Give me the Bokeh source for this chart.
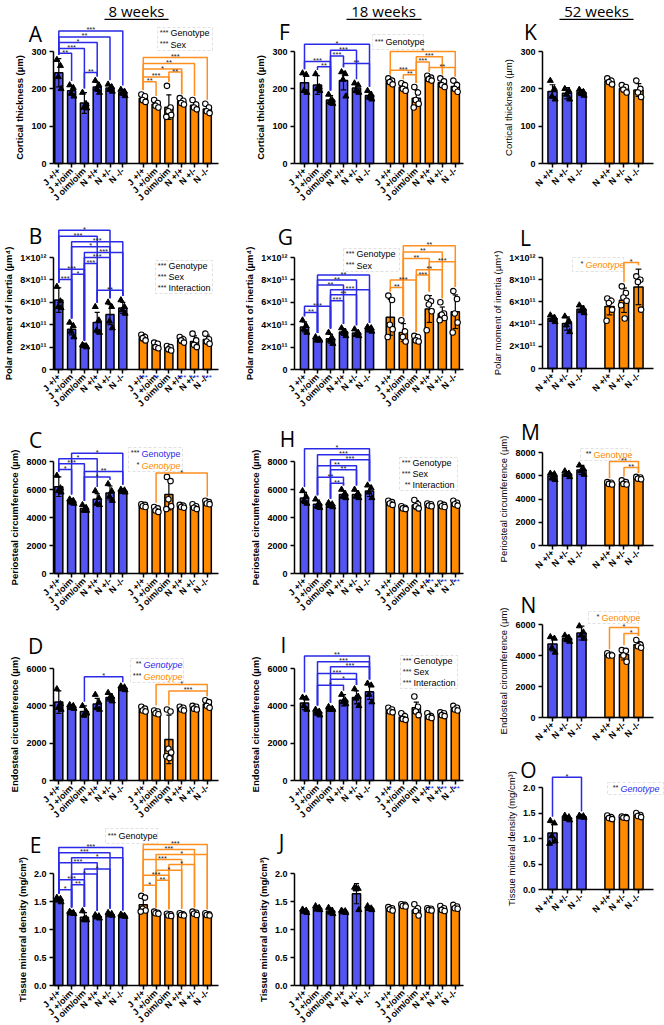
import math
from bokeh.plotting import figure
from bokeh.models import FixedTicker, Label, BoxAnnotation, Range1d
from bokeh.layouts import row, column
from bokeh.embed import file_html
from bokeh.resources import INLINE
from bokeh.core.properties import value

# ---------------- categories / tick labels ----------------
GROUPS_ALL = ["J +/+", "J +/oim", "J oim/oim", "N +/+", "N +/-", "N -/-"]
GROUPS_N = ["N +/+", "N +/-", "N -/-"]

YT_CT = [0, 100, 200, 300]
YL_CT = ["0", "100", "200", "300"]
YT_PM = [0, 2, 4, 6, 8, 10]          # units of 10^11 µm^4
YL_PM = ["0", "2×10¹¹", "4×10¹¹", "6×10¹¹", "8×10¹¹", "1×10¹²"]
YT_PC = [0, 2000, 4000, 6000, 8000]
YL_PC = ["0", "2000", "4000", "6000", "8000"]
YT_EC = [0, 2000, 4000, 6000]
YL_EC = ["0", "2000", "4000", "6000"]
YT_TMD = [0, 0.5, 1.0, 1.5, 2.0]
YL_TMD = ["0.0", "0.5", "1.0", "1.5", "2.0"]

LAB_CT = "Cortical thickness (µm)"
LAB_PM = "Polar moment of inertia (µm⁴)"
LAB_PC = "Periosteal circumference (µm)"
LAB_EC = "Endosteal circumference (µm)"
LAB_TMD = "Tissue mineral density (mg/cm³)"

# ---------------- 8 weeks ----------------
A_mean = [243, 195, 162, 205, 202, 190, 175, 159, 151, 166, 156, 146]
A_sd = [38, 12, 28, 12, 8, 7, 12, 9, 33, 8, 10, 10]
A_pts = [[278, 262, 232, 200], [210, 203, 188, 180], [190, 160, 150, 148], [222, 210, 200, 190],
         [212, 205, 198, 193], [198, 193, 188, 181], [185, 180, 170, 165], [170, 162, 155, 150],
         [208, 150, 140, 130, 125], [175, 168, 162, 158], [170, 158, 150, 145], [160, 150, 140, 135]]
A_br = [(0, 5, "***", 355), (0, 4, "**", 339), (0, 3, "*", 324), (0, 2, "***", 308), (0, 1, "**", 295),
        (2, 3, "**", 244), (6, 11, "***", 284), (6, 10, "**", 268), (6, 9, "*", 253), (8, 9, "**", 245),
        (6, 8, "***", 232), (6, 7, "**", 219)]

B_mean = [6.2, 3.6, 2.1, 4.2, 4.9, 5.5, 2.85, 2.15, 1.9, 2.65, 2.5, 2.67]
B_sd = [1.1, 0.5, 0.1, 0.9, 0.9, 0.5, 0.3, 0.35, 0.3, 0.3, 0.5, 0.4]
B_pts = [[7.4, 6.1, 5.6, 5.5], [4.2, 3.9, 3.4, 2.9], [2.2, 2.1, 2.1, 2.0], [5.6, 4.4, 3.5, 3.3],
         [6.0, 5.6, 4.3, 3.7], [6.2, 5.6, 5.3, 5.0], [3.1, 2.9, 2.8, 2.6], [2.4, 2.3, 2.0, 1.9],
         [2.1, 2.0, 1.8, 1.7], [2.9, 2.7, 2.6, 2.4], [3.2, 2.6, 2.2, 2.0], [3.2, 2.7, 2.5, 2.3]]
B_br = [(0, 4, "*", 12.44), (0, 3, "***", 11.9), (1, 5, "***", 11.4), (1, 4, "*", 10.95),
        (2, 5, "***", 10.45), (2, 4, "***", 10.0), (2, 3, "***", 9.46), (0, 2, "***", 8.96),
        (1, 2, "*", 8.51), (0, 1, "***", 8.04), (3, 5, "**", 7.08)]
B_sexstars = [(6, "***"), (7, "**"), (9, "***"), (10, "***"), (11, "***")]

C_mean = [6200, 5150, 4650, 5300, 5750, 5900, 4850, 4580, 5640, 4800, 4760, 5060]
C_sd = [700, 200, 200, 400, 500, 150, 100, 180, 1100, 100, 150, 130]
C_pts = [[7000, 6100, 5900, 5800], [5300, 5200, 5100, 5000], [4900, 4700, 4500, 4500],
         [5900, 5400, 5000, 4900], [6400, 5900, 5500, 5200], [6000, 5950, 5850, 5800],
         [4950, 4900, 4800, 4750], [4750, 4650, 4500, 4400], [6900, 6600, 5300, 4800, 4600],
         [4900, 4850, 4750, 4700], [4950, 4800, 4700, 4600], [5200, 5100, 5000, 4950]]
C_br = [(1, 5, "*", 8594), (0, 3, "*", 8190), (0, 2, "***", 7834), (0, 1, "*", 7431),
        (2, 5, "**", 7288), (2, 4, "*", 6885), (7, 11, "*", 7170)]

D_mean = [4200, 3950, 3700, 4100, 4450, 4950, 3800, 3650, 2200, 3850, 3900, 4100]
D_sd = [600, 100, 300, 300, 200, 100, 100, 150, 1300, 100, 100, 150]
D_pts = [[4900, 4100, 3900, 3800], [4050, 4000, 3900, 3850], [4000, 3700, 3500, 3600],
         [4600, 4200, 3900, 3800], [4700, 4500, 4400, 4250], [5050, 5000, 4900, 4850],
         [3950, 3850, 3750, 3700], [3750, 3700, 3600, 3550], [3800, 3700, 1700, 1500, 1300, 1200],
         [3950, 3900, 3800, 3750], [4000, 3950, 3850, 3800], [4300, 4200, 4000, 3900]]
D_br = [(2, 5, "*", 5552), (7, 11, "*", 5140), (8, 11, "***", 4800)]

E_mean = [1.53, 1.30, 1.22, 1.23, 1.27, 1.25, 1.44, 1.30, 1.26, 1.27, 1.29, 1.27]
E_sd = [0.03, 0.02, 0.08, 0.03, 0.03, 0.02, 0.12, 0.02, 0.03, 0.03, 0.03, 0.02]
E_pts = [[1.57, 1.55, 1.52, 1.49], [1.32, 1.30, 1.29, 1.28], [1.33, 1.20, 1.18, 1.17],
         [1.26, 1.24, 1.22, 1.20], [1.30, 1.28, 1.26, 1.25], [1.27, 1.25, 1.24, 1.23],
         [1.60, 1.57, 1.37, 1.34, 1.32], [1.32, 1.30, 1.29, 1.28], [1.28, 1.27, 1.25, 1.24],
         [1.29, 1.27, 1.26, 1.25], [1.32, 1.30, 1.28, 1.26], [1.29, 1.27, 1.26, 1.25]]
E_br = [(0, 5, "***", 2.466), (0, 4, "***", 2.37), (1, 5, "*", 2.28), (0, 3, "***", 2.19),
        (2, 4, "*", 2.08), (1, 3, "*", 1.99), (0, 2, "***", 1.89), (1, 2, "**", 1.80), (0, 1, "*", 1.71),
        (6, 11, "***", 2.52), (6, 10, "***", 2.43), (7, 11, "*", 2.34), (6, 9, "***", 2.25),
        (8, 10, "*", 2.16), (7, 9, "*", 2.06), (6, 8, "***", 1.97), (7, 8, "**", 1.88), (6, 7, "*", 1.79)]

# ---------------- 18 weeks ----------------
F_mean = [216, 210, 170, 222, 202, 182, 220, 205, 175, 228, 216, 206]
F_sd = [25, 25, 12, 25, 12, 10, 8, 10, 22, 6, 10, 12]
F_pts = [[242, 238, 195, 190], [240, 205, 200, 195], [185, 170, 165, 160], [245, 240, 225, 180],
         [215, 210, 195, 190], [195, 185, 178, 172], [228, 222, 218, 212], [215, 210, 200, 195],
         [205, 190, 170, 160, 150], [235, 230, 226, 222], [228, 220, 210, 205], [222, 210, 200, 192]]
F_br = [(0, 5, "*", 319.5), (2, 4, "***", 303.5), (2, 3, "***", 288), (0, 2, "***", 273),
        (3, 5, "**", 268), (1, 2, "**", 259), (6, 11, "*", 300), (8, 10, "***", 286),
        (8, 9, "***", 272), (9, 11, "**", 257), (6, 8, "***", 250), (7, 8, "**", 238)]

G_mean = [3.8, 2.7, 2.75, 3.35, 3.25, 3.6, 4.66, 3.3, 2.75, 5.4, 4.98, 5.16]
G_sd = [0.45, 0.15, 0.4, 0.3, 0.25, 0.2, 1.6, 0.8, 0.25, 1.2, 0.6, 1.5]
G_pts = [[4.4, 3.9, 3.6, 3.3], [2.9, 2.7, 2.6, 2.6], [3.3, 2.8, 2.6, 2.3], [3.7, 3.4, 3.3, 3.0],
         [3.6, 3.3, 3.1, 3.0], [3.8, 3.7, 3.5, 3.4], [6.6, 6.2, 4.0, 3.6, 2.9], [4.4, 3.4, 2.9, 2.5],
         [3.0, 2.9, 2.6, 2.5], [6.4, 6.1, 5.8, 5.2, 3.5], [6.0, 5.0, 4.9, 4.6, 4.4], [7.0, 6.3, 5.0, 4.2, 3.3]]
G_br = [(1, 5, "**", 8.43), (1, 4, "**", 7.98), (1, 3, "**", 7.54), (2, 5, "***", 7.12),
        (2, 4, "**", 6.68), (2, 3, "***", 6.14), (0, 2, "***", 5.64), (0, 1, "**", 5.10),
        (7, 11, "**", 11.04), (7, 10, "**", 10.5), (7, 9, "**", 9.91), (9, 11, "***", 9.61),
        (8, 10, "**", 8.9), (8, 9, "***", 8.43), (6, 8, "***", 7.98), (6, 7, "**", 7.33)]

H_mean = [5400, 4950, 4900, 5650, 5650, 5900, 5050, 4700, 4900, 4900, 4850, 5000]
H_sd = [400, 300, 150, 250, 250, 400, 150, 100, 300, 100, 100, 150]
H_pts = [[5900, 5500, 5200, 5000], [5300, 5000, 4800, 4700], [5050, 4950, 4850, 4750],
         [6000, 5700, 5500, 5400], [6000, 5700, 5500, 5400], [6300, 6100, 5800, 5400],
         [5200, 5100, 5000, 4900], [4800, 4700, 4650, 4600], [5250, 4950, 4800, 4650],
         [5000, 4950, 4850, 4800], [5000, 4900, 4800, 4750], [5200, 5050, 4950, 4850]]
H_br = [(0, 5, "*", 8907), (1, 5, "***", 8478), (2, 5, "***", 8119), (1, 4, "**", 7689),
        (2, 4, "**", 7403), (1, 3, "**", 6878), (2, 3, "**", 6448)]
H_sexstars = [(9, "***"), (10, "***"), (11, "***")]

I_mean = [4150, 3650, 3850, 4300, 4450, 4750, 3750, 3400, 3900, 3450, 3550, 3850]
I_sd = [350, 150, 100, 300, 350, 400, 150, 200, 300, 150, 100, 150]
I_pts = [[4450, 4400, 4000, 3800], [3800, 3700, 3600, 3500], [3950, 3850, 3800, 3800],
         [4600, 4300, 4200, 4100], [4900, 4500, 4400, 4000], [5200, 5100, 4600, 4200],
         [3900, 3800, 3700, 3650], [3600, 3450, 3300, 3250], [4500, 3950, 3700, 3500],
         [3600, 3450, 3400, 3350], [3650, 3600, 3500, 3450], [4000, 3900, 3800, 3750]]
I_br = [(0, 5, "**", 6675), (1, 5, "***", 6355), (2, 5, "***", 6088), (1, 4, "***", 5732),
        (2, 4, "*", 5429), (1, 3, "*", 5109)]
I_sexstars = [(6, "*"), (9, "***"), (10, "***"), (11, "***")]

J_mean = [1.33, 1.38, 1.33, 1.32, 1.64, 1.38, 1.37, 1.43, 1.35, 1.36, 1.37, 1.40]
J_sd = [0.03, 0.04, 0.05, 0.02, 0.18, 0.03, 0.03, 0.02, 0.06, 0.02, 0.04, 0.03]
J_pts = [[1.36, 1.34, 1.32, 1.30], [1.42, 1.39, 1.36, 1.35], [1.39, 1.34, 1.31, 1.28],
         [1.34, 1.33, 1.31, 1.30], [1.75, 1.73, 1.72, 1.35], [1.42, 1.38, 1.37, 1.35],
         [1.40, 1.38, 1.36, 1.34], [1.45, 1.44, 1.42, 1.41], [1.45, 1.38, 1.33, 1.25],
         [1.38, 1.37, 1.35, 1.34], [1.42, 1.38, 1.35, 1.33], [1.44, 1.41, 1.38, 1.37]]
J_br = []

# ---------------- 52 weeks ----------------
K_mean = [193, 188, 190, 220, 201, 197]
K_sd = [18, 15, 8, 7, 9, 17]
K_pts = [[222, 200, 180, 172], [200, 195, 185, 172], [198, 192, 188, 182],
         [228, 222, 218, 212], [210, 205, 198, 190], [222, 200, 190, 178]]
K_br = []

L_mean = [4.5, 4.05, 5.33, 5.58, 6.15, 7.35]
L_sd = [0.25, 0.6, 0.3, 0.75, 1.1, 1.6]
L_pts = [[4.8, 4.6, 4.4, 4.2], [4.7, 4.3, 3.9, 3.3], [5.7, 5.4, 5.2, 5.0],
         [6.3, 6.1, 5.9, 5.3, 4.3], [7.4, 6.8, 6.4, 6.1, 5.7, 4.5], [8.3, 8.0, 7.8, 5.3]]
L_br = [(4, 5, "*", 9.55)]

M_mean = [5950, 6150, 6500, 5350, 5400, 5800]
M_sd = [300, 200, 400, 100, 150, 100]
M_pts = [[6200, 6150, 5800, 5650], [6400, 6200, 6100, 5900], [6900, 6600, 6400, 6100],
         [5450, 5400, 5300, 5250], [5600, 5450, 5300, 5250], [5900, 5850, 5750, 5700]]
M_br = [(3, 5, "**", 7226), (4, 5, "**", 6710)]

N_mean = [4750, 5100, 5450, 4050, 4060, 4700]
N_sd = [450, 200, 450, 80, 350, 200]
N_pts = [[5200, 5100, 4500, 4200], [5300, 5150, 5050, 4900], [5900, 5500, 5300, 5100],
         [4150, 4050, 4000, 4000], [4350, 4300, 4000, 3600], [5000, 4700, 4600, 4500]]
N_br = [(3, 5, "*", 5806), (4, 5, "*", 5419)]

O_mean = [1.11, 1.40, 1.43, 1.41, 1.41, 1.45]
O_sd = [0.2, 0.04, 0.02, 0.03, 0.02, 0.03]
O_pts = [[1.35, 1.30, 1.05, 0.95, 0.90], [1.45, 1.42, 1.39, 1.36], [1.45, 1.44, 1.42, 1.41],
         [1.45, 1.42, 1.40, 1.38], [1.43, 1.42, 1.41, 1.40], [1.50, 1.46, 1.44, 1.42]]
O_br = [(0, 2, "*", 2.2)]

# ---------------- styles / layout ----------------
FONT = "Liberation Sans"
HEAD = "Open Sans"
BLUE = "#5454f2"
BLUE_LINE = "#2a2ae8"
ORANGE = "#ff8a00"
ORANGE_LINE = "#ff8f1f"
BAR_W = 0.63
CAP = 0.2
JITTER = [-0.15, 0.13, -0.04, 0.18, -0.2, 0.05]
XPOS12 = [0, 1, 2, 3, 4, 5, 6.6, 7.6, 8.6, 9.6, 10.6, 11.6]
XPOS6 = [0, 1, 2, 3.93, 4.93, 5.93]

COLG = [
    dict(left=0, width=242, fl=53, fr=218, bar0=58.3, pxu=12.8),
    dict(left=242, width=233, fl=294, fr=463, bar0=304.0, pxu=13.0),
    dict(left=475, width=189, fl=542, fr=653, bar0=552.0, pxu=14.5),
]
ROWG12 = [
    dict(top=0, h=212, y0=163, yt=51),
    dict(top=212, h=206, y0=369, yt=257),
    dict(top=418, h=204, y0=573, yt=461),
    dict(top=622, h=203, y0=780, yt=668),
    dict(top=825, h=200, y0=985, yt=873),
]
ROWG3 = [
    dict(top=0, h=212, y0=163, yt=51),
    dict(top=212, h=198, y0=368, yt=257),
    dict(top=410, h=180, y0=545, yt=452),
    dict(top=590, h=165, y0=717, yt=624),
    dict(top=755, h=175, y0=889, yt=787),
]

K_ = "black"
PANELS = [
    dict(col=0, row=0, letter="A", lpos=(35, 33), mean=A_mean, sd=A_sd, pts=A_pts, br=A_br,
         yt=YT_CT, yl=YL_CT, ylab=LAB_CT, title=("8 weeks", 136, 104, 168),
         legend=((157, 27, 212, 50), [("***", "Genotype", K_, "normal"), ("***", "Sex", K_, "normal")])),
    dict(col=0, row=1, letter="B", lpos=(35, 235), mean=B_mean, sd=B_sd, pts=B_pts, br=B_br,
         yt=YT_PM, yl=YL_PM, ylab=LAB_PM, stars=B_sexstars,
         legend=((155, 260, 212, 293), [("***", "Genotype", K_, "normal"), ("***", "Sex", K_, "normal"),
                                        ("***", "Interaction", K_, "normal")])),
    dict(col=0, row=2, letter="C", lpos=(35, 439), mean=C_mean, sd=C_sd, pts=C_pts, br=C_br,
         yt=YT_PC, yl=YL_PC, ylab=LAB_PC,
         legend=((128, 447, 182, 471), [("***", "Genotype", BLUE_LINE, "normal"),
                                        ("*", "Genotype", ORANGE, "italic")])),
    dict(col=0, row=3, letter="D", lpos=(35, 645), mean=D_mean, sd=D_sd, pts=D_pts, br=D_br,
         yt=YT_EC, yl=YL_EC, ylab=LAB_EC,
         legend=((130, 658, 183, 682), [("**", "Genotype", BLUE_LINE, "italic"),
                                        ("***", "Genotype", ORANGE, "italic")])),
    dict(col=0, row=4, letter="E", lpos=(35, 844), mean=E_mean, sd=E_sd, pts=E_pts, br=E_br,
         yt=YT_TMD, yl=YL_TMD, ylab=LAB_TMD,
         legend=((105, 828, 157, 843), [("***", "Genotype", K_, "normal")])),
    dict(col=1, row=0, letter="F", lpos=(284, 31), mean=F_mean, sd=F_sd, pts=F_pts, br=F_br,
         yt=YT_CT, yl=YL_CT, ylab=LAB_CT, title=("18 weeks", 383, 346, 421),
         legend=((372, 34, 423, 49), [("***", "Genotype", K_, "normal")])),
    dict(col=1, row=1, letter="G", lpos=(285, 236), mean=G_mean, sd=G_sd, pts=G_pts, br=G_br,
         yt=YT_PM, yl=YL_PM, ylab=LAB_PM,
         legend=((343, 248, 399, 271), [("***", "Genotype", K_, "normal"), ("***", "Sex", K_, "normal")])),
    dict(col=1, row=2, letter="H", lpos=(287, 438), mean=H_mean, sd=H_sd, pts=H_pts, br=H_br,
         yt=YT_PC, yl=YL_PC, ylab=LAB_PC, stars=H_sexstars,
         legend=((399, 457, 457, 490), [("***", "Genotype", K_, "normal"), ("***", "Sex", K_, "normal"),
                                        ("**", "Interaction", K_, "normal")])),
    dict(col=1, row=3, letter="I", lpos=(283, 644), mean=I_mean, sd=I_sd, pts=I_pts, br=I_br,
         yt=YT_EC, yl=YL_EC, ylab=LAB_EC, stars=I_sexstars,
         legend=((400, 655, 457, 688), [("***", "Genotype", K_, "normal"), ("***", "Sex", K_, "normal"),
                                        ("***", "Interaction", K_, "normal")])),
    dict(col=1, row=4, letter="J", lpos=(281, 841), mean=J_mean, sd=J_sd, pts=J_pts, br=J_br,
         yt=YT_TMD, yl=YL_TMD, ylab=LAB_TMD),
    dict(col=2, row=0, letter="K", lpos=(530, 31), mean=K_mean, sd=K_sd, pts=K_pts, br=K_br,
         yt=YT_CT, yl=YL_CT, ylab=LAB_CT, title=("52 weeks", 596, 559, 633)),
    dict(col=2, row=1, letter="L", lpos=(525, 237), mean=L_mean, sd=L_sd, pts=L_pts, br=L_br,
         yt=YT_PM, yl=YL_PM, ylab=LAB_PM,
         legend=((572, 257, 623, 271), [("*", "Genotype", ORANGE, "italic")])),
    dict(col=2, row=2, letter="M", lpos=(530, 431), mean=M_mean, sd=M_sd, pts=M_pts, br=M_br,
         yt=YT_PC, yl=YL_PC, ylab=LAB_PC,
         legend=((580, 448, 630, 460), [("**", "Genotype", ORANGE, "normal")])),
    dict(col=2, row=3, letter="N", lpos=(528, 604), mean=N_mean, sd=N_sd, pts=N_pts, br=N_br,
         yt=YT_EC, yl=YL_EC, ylab=LAB_EC,
         legend=((588, 611, 638, 623), [("*", "Genotype", ORANGE, "normal")])),
    dict(col=2, row=4, letter="O", lpos=(528, 769), mean=O_mean, sd=O_sd, pts=O_pts, br=O_br,
         yt=YT_TMD, yl=YL_TMD, ylab=LAB_TMD,
         legend=((607, 782, 663, 794), [("**", "Genotype", BLUE_LINE, "italic")])),
]


def make(P):
    C = COLG[P["col"]]
    R = (ROWG3 if P["col"] == 2 else ROWG12)[P["row"]]
    xpos = XPOS6 if P["col"] == 2 else XPOS12
    groups = GROUPS_N if P["col"] == 2 else GROUPS_ALL
    nb = len(xpos) // 2
    yt = P["yt"]
    fl, fr, pxu = C["fl"], C["fr"], C["pxu"]
    W, H = C["width"], R["h"]
    ppv = (R["y0"] - R["yt"]) / yt[-1]

    def dx(px):
        return (px - C["bar0"]) / pxu

    def dy(py):
        return (R["y0"] - py) / ppv

    p = figure(width=W, height=H,
               x_range=Range1d(dx(C["left"]), dx(C["left"] + W)),
               y_range=Range1d(dy(R["top"] + H), dy(R["top"])),
               output_backend="svg", toolbar_location=None,
               min_border_left=0, min_border_right=0, min_border_top=0, min_border_bottom=0)
    p.outline_line_color = None
    p.xgrid.visible = False
    p.ygrid.visible = False

    lab_style = "bold" if P["col"] < 2 else "normal"

    xa = p.xaxis[0]
    xa.fixed_location = 0
    xa.bounds = (dx(fl), dx(fr))
    xa.ticker = FixedTicker(ticks=xpos)
    xa.major_label_overrides = {x: g for x, g in zip(xpos, groups * 2)}
    xa.major_label_orientation = math.pi / 4
    xa.major_label_text_font = FONT
    xa.major_label_text_font_size = "9px"
    xa.major_label_text_font_style = "bold"
    xa.major_label_text_color = "black"
    xa.major_label_standoff = 2
    xa.major_tick_out = 4
    xa.major_tick_in = 0
    xa.minor_tick_out = 0
    xa.minor_tick_in = 0
    xa.axis_line_width = 1.5
    xa.major_tick_line_width = 1.5

    ya = p.yaxis[0]
    ya.fixed_location = dx(fl)
    ya.bounds = (0, yt[-1])
    ya.ticker = FixedTicker(ticks=yt)
    ya.major_label_overrides = {t: l for t, l in zip(yt, P["yl"])}
    ya.major_label_text_font = FONT
    ya.major_label_text_font_size = "9px"
    ya.major_label_text_font_style = "bold"
    ya.major_label_text_color = "black"
    ya.major_label_standoff = 3
    ya.major_tick_out = 4
    ya.major_tick_in = 0
    ya.minor_tick_out = 0
    ya.minor_tick_in = 0
    ya.axis_line_width = 1.5
    ya.major_tick_line_width = 1.5
    ya.axis_label = P["ylab"]
    ya.axis_label_text_font = FONT
    ya.axis_label_text_font_size = "9.5px"
    ya.axis_label_text_font_style = lab_style
    ya.axis_label_text_color = "black"
    ya.axis_label_standoff = 3

    mean, sd, pts = P["mean"], P["sd"], P["pts"]
    fills = [BLUE] * nb + [ORANGE] * nb
    p.vbar(x=xpos, top=mean, width=BAR_W, fill_color=fills, line_color="black", line_width=1.5)
    hi = [m + s for m, s in zip(mean, sd)]
    lo = [m - s for m, s in zip(mean, sd)]
    p.segment(x0=xpos, y0=lo, x1=xpos, y1=hi, line_color="black", line_width=1.2)
    p.segment(x0=[x - CAP for x in xpos], y0=hi, x1=[x + CAP for x in xpos], y1=hi,
              line_color="black", line_width=1.2)
    p.segment(x0=[x - CAP for x in xpos], y0=lo, x1=[x + CAP for x in xpos], y1=lo,
              line_color="black", line_width=1.2)

    tx, ty, cx, cy = [], [], [], []
    for k, (x, vals) in enumerate(zip(xpos, pts)):
        for j, v in enumerate(vals):
            ox = x + JITTER[j % len(JITTER)]
            if k < nb:
                tx.append(ox)
                ty.append(v)
            else:
                cx.append(ox)
                cy.append(v)
    p.scatter(tx, ty, marker="triangle", size=6, fill_color="black", line_color="black")
    p.scatter(cx, cy, marker="circle", size=5.5, fill_color="white", line_color="black", line_width=1.1)

    tops = [max(max(v), h) for v, h in zip(pts, hi)]
    pad = 4 / ppv
    bx, by, bc, sx, sy, st = [], [], [], [], [], []
    for (i, j, lab, lev) in P["br"]:
        bi = min(tops[i] + pad, lev)
        bj = min(tops[j] + pad, lev)
        bx.append([xpos[i], xpos[i], xpos[j], xpos[j]])
        by.append([bi, lev, lev, bj])
        bc.append(BLUE_LINE if i < nb else ORANGE_LINE)
        sx.append((xpos[i] + xpos[j]) / 2)
        sy.append(lev + 1 / ppv)
        st.append(lab)
    if bx:
        p.multi_line(xs=bx, ys=by, line_color=bc, line_width=1.5)
        p.text(x=sx, y=sy, text=st, text_font=value(FONT), text_font_size=value("7.5px"),
               text_align="center", text_baseline="alphabetic", text_color="#222222")

    # panel letter
    lx, ly = P["lpos"]
    p.add_layout(Label(x=dx(lx), y=dy(ly), text=P["letter"], text_font=HEAD, text_font_size="21px",
                       text_align="center", text_baseline="middle", text_color="black"))
    # column title (underlined)
    if "title" in P:
        t, tcx, tx0, tx1 = P["title"]
        p.add_layout(Label(x=dx(tcx), y=dy(10), text=t, text_font=HEAD, text_font_size="15px",
                           text_align="center", text_baseline="middle", text_color="black"))
        p.add_layout(BoxAnnotation(left=dx(tx0), right=dx(tx1), top=dy(18.3), bottom=dy(19.6),
                                   fill_color="black", fill_alpha=1, line_alpha=0))
    # legend box
    if "legend" in P:
        (x0, y0, x1, y1), entries = P["legend"]
        p.add_layout(BoxAnnotation(left=dx(x0), right=dx(x1), top=dy(y0), bottom=dy(y1),
                                   fill_alpha=0, line_color="#9a9a9a", line_width=1.1, line_dash="3 2"))
        pitch = (y1 - y0) / len(entries)
        for k, (stars, word, color, style) in enumerate(entries):
            yy = y0 + pitch * (k + 0.5)
            p.add_layout(Label(x=dx(x0 + 11), y=dy(yy - 1), text=stars, text_font=FONT,
                               text_font_size="7.5px", text_align="right", text_baseline="middle",
                               text_color="#222222"))
            p.add_layout(Label(x=dx(x0 + 13), y=dy(yy), text=word, text_font=FONT,
                               text_font_size="9px", text_align="left", text_baseline="middle",
                               text_color=color, text_font_style=style))
    # significance vs. other sex, below the axis
    for (i, s) in P.get("stars", []):
        p.add_layout(Label(x=xpos[i], y=dy(R["y0"] + 8), text=s, text_font=FONT, text_font_size="8px",
                           text_align="center", text_baseline="middle", text_color=BLUE_LINE))
    return p


figs = [make(P) for P in PANELS]
cols = [column(*[f for f, P in zip(figs, PANELS) if P["col"] == c]) for c in range(3)]
layout = row(*cols)

open("out.html", "w").write(file_html(layout, INLINE))
